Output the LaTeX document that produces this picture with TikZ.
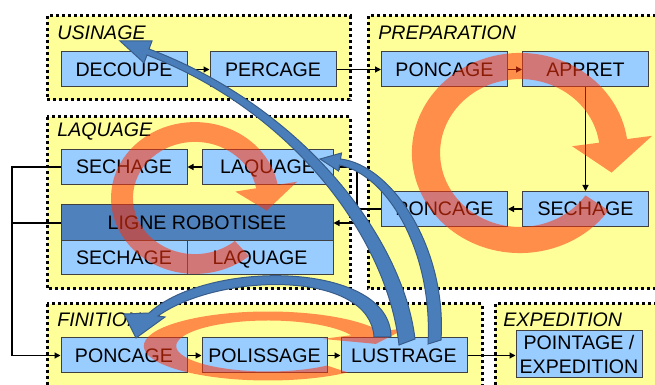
\documentclass[tikz,border=0pt]{standalone}
\usepackage{fontspec}
\setmainfont{Liberation Sans}
\usetikzlibrary{arrows.meta}
\definecolor{groupyellow}{HTML}{FFFF99}
\definecolor{boxblue}{HTML}{99CCFF}
\definecolor{linedark}{HTML}{404040}
\definecolor{robotblue}{HTML}{4F81BD}
\definecolor{bendblue}{HTML}{4A7EBB}
\definecolor{bendedge}{HTML}{385D8A}
\definecolor{ringred}{RGB}{255,50,10}
\tikzset{
    group/.style={fill=groupyellow, draw=black, line width=1.5pt, dash pattern=on 1.5pt off 1.5pt},
    grouplabel/.style={anchor=base west, inner sep=0pt, font=\fontsize{9.8pt}{11.8pt}\selectfont\itshape},
    procbox/.style={draw=linedark, fill=boxblue, line width=0.5pt, minimum width=63pt, minimum height=17.5pt,
            inner sep=0pt, text depth=0pt, align=center, font=\fontsize{9.8pt}{11.8pt}\selectfont},
    flow/.style={-{Triangle[length=3pt,width=3pt]}, line width=0.6pt},
    ringfill/.style={fill=ringred, fill opacity=0.55},
    bendarrow/.style={fill=bendblue, draw=bendedge, line width=0.5pt},
}
% centre x, centre y, x radius, y radius, start angle, end angle
\newcommand{\cyclearrow}[6]{%
    \begin{scope}[shift={(#1,#2)}, xscale=#3, yscale=#4]
        \fill[ringfill] (#5:1.15) arc[start angle=#5, end angle=#6, radius=1.15]
            -- (#6:1.42) -- ({#6+21}:1) -- (#6:0.56) -- (#6:0.85)
            arc[start angle=#6, end angle=#5, radius=0.85] -- cycle;
    \end{scope}}

\begin{document}
\begin{tikzpicture}[x=0.5pt, y=-0.5pt]
        \useasboundingbox (0, 0) rectangle (655, 385);
        \clip (0, 0) rectangle (655, 385);
        %draw the groups
        \draw[group] (47, 16) rectangle (350, 100);
        \draw[group] (47, 117) rectangle (350, 289);
        \draw[group] (368, 16) rectangle (662, 289);
        \draw[group] (47, 304) rectangle (482, 395);
        \draw[group] (495, 304) rectangle (662, 395);
        %label the groups
        \node[grouplabel] (lblUsinage) at (57, 40) {USINAGE};
        \node[grouplabel] (lblLaquage) at (57, 137) {LAQUAGE};
        \node[grouplabel] (lblPreparation) at (378, 40) {PREPARATION};
        \node[grouplabel] (lblFinition) at (57, 327) {FINITION};
        \node[grouplabel] (lblExpedition) at (503, 327) {EXPEDITION};
        %usinage
        \node[procbox] (decoupe) at (124, 69.5) {DECOUPE};
        \node[procbox] (percage) at (273, 69.5) {PERCAGE};
        %preparation
        \node[procbox] (poncageP) at (444.5, 69.5) {PONCAGE};
        \node[procbox] (appret) at (585.5, 69.5) {APPRET};
        \node[procbox] (sechageP) at (585.5, 209) {SECHAGE};
        \node[procbox] (poncageQ) at (444.5, 209) {PONCAGE};
        %laquage
        \node[procbox] (sechageL) at (124, 167) {SECHAGE};
        \node[procbox, minimum width=65.5pt] (laquageL) at (267.5, 167) {LAQUAGE};
        \node[procbox, fill=robotblue, minimum width=136pt, minimum height=18pt] (ligne) at (197, 223) {LIGNE ROBOTISEE};
        \node[procbox, minimum height=17pt] (sechageR) at (124, 258) {SECHAGE};
        \node[procbox, minimum width=73pt, minimum height=17pt] (laquageR) at (260, 258) {LAQUAGE};
        %finition and expedition
        \node[procbox] (poncageF) at (124, 355.5) {PONCAGE};
        \node[procbox, minimum width=62.5pt] (polissage) at (264.5, 355.5) {POLISSAGE};
        \node[procbox] (lustrage) at (404, 355.5) {LUSTRAGE};
        \node[procbox, minimum height=23.5pt] (pointage) at (579, 354.5) {POINTAGE /\\EXPEDITION};
        %process flow
        \coordinate (splitP) at (357, 209);
        \coordinate (backline) at (12, 355.5);
        \draw[flow] (decoupe) -- (percage);
        \draw[flow] (percage) -- (poncageP);
        \draw[flow] (poncageP) -- (appret);
        \draw[flow] (appret) -- (sechageP);
        \draw[flow] (sechageP) -- (poncageQ);
        \draw[line width=0.6pt] (poncageQ.west) -- (splitP);
        \draw[flow] (splitP) |- (laquageL);
        \draw[flow] (splitP) |- (ligne);
        \draw[flow] (laquageL) -- (sechageL);
        \draw[flow] (sechageL.west) -| (backline) -- (poncageF.west);
        \draw[line width=0.6pt] (ligne.west) -- (ligne.west -| backline);
        \draw[flow] (poncageF) -- (polissage);
        \draw[flow] (polissage) -- (lustrage);
        \draw[flow] (lustrage.east) -- (lustrage.east -| pointage.west);
        %cycle arrows
        \cyclearrow{520}{153}{94}{87}{35}{352}
        \cyclearrow{195}{198}{73}{66}{50}{350}
        \cyclearrow{268}{346}{108}{30}{50}{335}
        %rework arrows from lustrage
        \draw[bendarrow] (391, 337) .. controls (391, 262) and (210, 258) .. (149, 313)
            -- (124, 314) -- (136, 338) -- (165, 317) -- (158, 316)
            .. controls (220, 272) and (370, 270) .. (374, 337) -- cycle;
        \draw[bendarrow] (415, 339) .. controls (403, 238) and (303, 107) .. (149, 49)
            -- (152, 41) -- (120, 41) -- (144, 63) -- (147, 55)
            .. controls (297, 113) and (388, 242) .. (399, 345) -- cycle;
        \draw[bendarrow] (441, 340) .. controls (447, 248) and (392, 165) .. (340.5, 159)
            -- (341.5, 153) -- (320, 159) -- (338.5, 171) -- (339.5, 165)
            .. controls (388, 175) and (433, 252) .. (428, 344) -- cycle;
    \end{tikzpicture}
\end{document}
